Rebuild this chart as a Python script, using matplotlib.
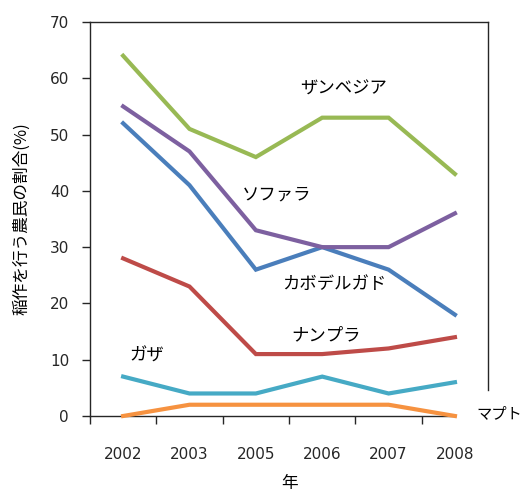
import matplotlib.pyplot as plt
import numpy as np

plt.rcParams['font.family'] = ['Noto Sans CJK JP', 'DejaVu Sans']

years = ['2002', '2003', '2005', '2006', '2007', '2008']
zambezia = [64, 51, 46, 53, 53, 43]
sofala = [55, 47, 33, 30, 30, 36]
cabo_delgado = [52, 41, 26, 30, 26, 18]
nampula = [28, 23, 11, 11, 12, 14]
gaza = [7, 4, 4, 7, 4, 6]
maputo = [0, 2, 2, 2, 2, 0]

series = [
    (maputo, '#F69240'),
    (gaza, '#46AAC5'),
    (nampula, '#BE4B48'),
    (cabo_delgado, '#4A7EBB'),
    (sofala, '#7D60A0'),
    (zambezia, '#98B954'),
]

fig = plt.figure(figsize=(5.26, 4.95), dpi=100)
ax = fig.add_axes([0.171, 0.1596, 0.757, 0.796])

x = np.arange(len(years))
for vals, col in series:
    ax.plot(x, vals, color=col, linewidth=3, solid_joinstyle='miter', clip_on=False, zorder=3)

ax.set_xlim(-0.5, 5.5)
ax.set_ylim(0, 70)
ax.set_yticks(range(0, 71, 10))
ax.set_yticklabels([str(v) for v in range(0, 71, 10)], family='DejaVu Sans')
ax.set_xticks(x)
ax.set_xticklabels(years, fontsize=11, color='#262626', family='DejaVu Sans')
ax.set_xticks(np.arange(-0.5, 5, 1), minor=True)
ax.tick_params(axis='x', which='major', length=0, pad=22)
ax.tick_params(axis='x', which='minor', length=6, width=1, direction='out', color='#262626')
ax.tick_params(axis='y', length=6, width=1, direction='out', labelsize=11, colors='#262626', pad=9)

for s in ['left', 'bottom', 'top', 'right']:
    ax.spines[s].set_color('#262626')
    ax.spines[s].set_linewidth(1)
ax.spines['bottom'].set_bounds(-0.5, 5)
ax.spines['right'].set_bounds(4.6, 70)

ax.set_ylabel('稲作を行う農民の割合(%)', fontsize=12, labelpad=14)
ax.set_xlabel('年', fontsize=12, labelpad=10)

ax.text(3.32, 58.1, 'ザンベジア', fontsize=12.5, ha='center', va='center')
ax.text(2.31, 39.3, 'ソファラ', fontsize=12.5, ha='center', va='center')
ax.text(3.18, 23.5, 'カボデルガド', fontsize=12.5, ha='center', va='center')
ax.text(3.06, 14.4, 'ナンプラ', fontsize=12.5, ha='center', va='center')
ax.text(0.36, 10.8, 'ガザ', fontsize=12.5, ha='center', va='center')
ax.text(5.32, 0.5, 'マプト', fontsize=11, ha='left', va='center', clip_on=False)

plt.savefig('out.png', dpi=100)
